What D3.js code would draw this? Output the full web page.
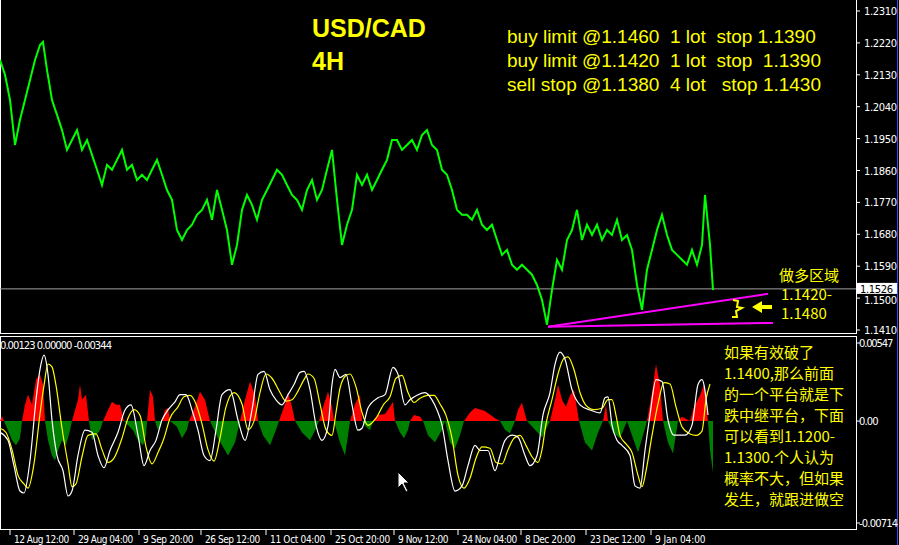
<!DOCTYPE html>
<html><head><meta charset="utf-8">
<script src="https://cdn.jsdelivr.net/npm/d3@7"></script>
<style>body{margin:0;background:#000}svg{display:block}</style></head>
<body><script>
// ---- DATA ----
const priceTicks=[1.2310,1.2220,1.2130,1.2040,1.1950,1.1860,1.1770,1.1680,1.1590,1.1500,1.1410];
const lastPrice=1.1526;
const priceBars=[0,5,10,15,20,25,30,35,40,43,47,52,57,62,67,72,77,82,87,92,97,102,107,112,117,122,127,132,137,142,147,152,157,162,167,172,177,182,187,192,197,202,207,212,217,222,227,232,237,242,247,252,257,262,267,272,277,282,287,292,297,302,307,312,317,322,327,332,337,342,347,352,357,362,367,372,377,382,387,392,397,402,407,412,417,422,427,432,437,442,447,452,457,462,467,472,477,482,487,492,497,502,507,512,517,522,527,532,537,542,547,552,557,562,567,572,577,582,587,592,597,602,607,612,617,622,627,632,637,642,647,652,657,662,667,672,677,682,687,692,697,702,705,707,710,713];
const priceVals=[1.2172,1.2130,1.2059,1.1932,1.2003,1.2059,1.2115,1.2172,1.2214,1.2223,1.2144,1.2059,1.2017,1.1974,1.1918,1.1946,1.1974,1.1918,1.1946,1.1904,1.1862,1.1819,1.1876,1.1862,1.1890,1.1918,1.1862,1.1876,1.1833,1.1848,1.1833,1.1862,1.1890,1.1848,1.1805,1.1777,1.1692,1.1664,1.1692,1.1707,1.1735,1.1749,1.1777,1.1721,1.1805,1.1749,1.1692,1.1594,1.1650,1.1749,1.1791,1.1763,1.1721,1.1777,1.1805,1.1833,1.1862,1.1848,1.1819,1.1791,1.1777,1.1749,1.1805,1.1833,1.1777,1.1805,1.1862,1.1918,1.1777,1.1650,1.1707,1.1749,1.1848,1.1819,1.1848,1.1805,1.1833,1.1862,1.1890,1.1946,1.1946,1.1918,1.1932,1.1946,1.1918,1.1960,1.1974,1.1932,1.1918,1.1862,1.1848,1.1805,1.1749,1.1735,1.1735,1.1721,1.1749,1.1707,1.1692,1.1707,1.1664,1.1622,1.1636,1.1594,1.1580,1.1594,1.1580,1.1566,1.1537,1.1495,1.1425,1.1523,1.1608,1.1580,1.1664,1.1692,1.1749,1.1664,1.1707,1.1678,1.1707,1.1664,1.1692,1.1678,1.1721,1.1664,1.1678,1.1636,1.1537,1.1467,1.1580,1.1636,1.1692,1.1735,1.1678,1.1636,1.1622,1.1608,1.1594,1.1636,1.1594,1.1650,1.1791,1.1735,1.1650,1.1523];
const trendUpper=[[548,1.1419],[768,1.1512]];
const trendLower=[[548,1.1419],[773,1.1430]];
// MACD-type indicator, values in units of 0.00001
const histBars=[0,2,4,8,12,16,20,22,25,28,32,36,40,43,45,48,52,55,58,62,66,70,72,75,78,80,82,86,89,92,96,100,103,108,112,116,120,124,133,138,143,146,147,150,153,155,158,162,165,168,170,177,182,187,189,195,200,205,210,218,228,235,240,245,250,255,258,263,270,276,279,285,288,292,295,302,310,316,319,324,328,332,334,340,345,348,350,355,360,362,366,370,373,378,385,390,393,395,400,404,408,410,414,420,423,428,435,442,445,450,455,460,464,470,475,485,495,500,505,510,515,518,522,527,535,542,550,555,558,562,566,570,574,579,585,592,598,603,606,608,613,620,627,632,638,645,647,652,656,660,663,668,673,678,682,690,694,700,704,708,710,713];
const histVals=[0,36,0,-64,-135,-170,-121,0,114,185,114,291,327,256,0,-135,-241,-277,-206,-135,-170,-64,0,78,149,256,149,185,0,-135,-99,-64,0,78,135,114,114,0,-64,-135,-170,-100,0,220,170,0,-64,0,78,92,0,-40,-121,-60,0,100,206,150,0,-120,-241,-150,0,150,277,180,0,-100,-170,-60,0,120,199,100,0,-80,-135,-50,0,120,206,100,0,-150,-241,-100,0,120,185,0,-40,-64,0,43,50,100,135,0,-80,-121,-60,0,43,30,0,-100,-149,-60,0,-150,-192,-100,0,60,92,70,20,0,-60,-85,0,80,128,0,-60,-114,0,150,256,150,100,180,220,0,-150,-206,-80,0,114,0,-80,-121,0,-100,-220,-50,0,200,398,250,0,-150,-227,0,30,0,100,180,256,0,-200,-362];
const mainBars=[0,8,14,20,24,30,36,40,44,48,52,57,63,68,72,78,85,92,98,104,110,118,125,131,138,144,150,156,162,168,175,180,186,192,198,204,210,216,222,230,238,245,252,258,264,270,276,282,288,294,300,304,310,316,322,328,332,335,340,346,352,358,362,368,378,385,393,398,405,410,418,425,432,437,442,448,455,462,468,475,480,488,495,500,505,512,518,525,530,537,543,550,555,560,565,572,580,590,600,605,608,612,617,622,630,635,640,645,650,656,662,668,674,678,685,692,698,702,708];
const mainVals=[-78,-135,-312,-490,-504,-277,149,362,462,327,7,-241,-348,-525,-490,-241,-64,-78,-241,-327,-206,-78,78,114,-99,-312,-206,-135,7,78,135,185,185,78,-64,-241,-277,-64,185,220,7,-135,78,327,348,220,149,114,185,256,341,348,220,-28,-135,-36,256,362,305,327,114,-64,-50,92,163,185,376,327,114,149,185,199,149,78,-28,-277,-490,-454,-312,-170,-206,-206,-348,-241,-135,-99,-114,-241,-312,-241,43,199,398,483,433,220,114,78,57,163,170,-28,-135,-170,-241,-454,-469,-206,43,291,277,7,-99,-99,-99,-28,256,291,43];
const signalBars=[0,6,12,18,24,28,34,40,44,48,52,56,62,68,72,76,82,88,96,102,108,114,122,128,134,140,146,152,158,164,170,178,184,190,196,202,208,214,220,226,234,242,248,254,260,266,272,280,286,292,298,304,308,314,320,326,332,336,340,346,350,356,362,368,376,384,390,396,402,408,414,420,428,434,440,446,452,458,464,470,476,482,490,496,502,508,514,520,526,532,538,542,546,552,558,564,568,574,580,586,594,602,608,612,616,620,626,632,638,642,646,652,658,664,670,676,682,690,696,702,706,710];
const signalVals=[-50,-80,-200,-380,-440,-470,-300,50,250,400,380,250,-50,-300,-460,-440,-250,-100,-90,-200,-290,-260,-120,20,80,40,-180,-300,-220,-120,20,100,170,180,120,-20,-200,-280,-120,100,200,120,-60,0,200,330,300,200,140,150,210,290,330,300,120,-60,-100,60,230,320,330,240,60,-30,20,120,170,300,320,200,130,160,180,180,120,40,-120,-380,-470,-400,-260,-180,-190,-290,-300,-200,-120,-100,-170,-250,-290,-200,-20,150,330,440,450,360,200,110,80,90,150,150,40,-100,-160,-220,-380,-460,-350,-100,120,270,260,100,-40,-90,-100,-70,150,260,180];
const indicatorLabel="0.00123 0.00000 -0.00344";
const indTicks=[{v:547,t:"0.00547"},{v:0,t:"0.00"},{v:-714,t:"-0.00714"}];
const timeTickBars=[10,74,139,201,266,331,394,458,521,586,651];
const timeTickLabels=["12 Aug 12:00","29 Aug 04:00","9 Sep 20:00","26 Sep 12:00","11 Oct 04:00","25 Oct 20:00","9 Nov 12:00","24 Nov 04:00","8 Dec 20:00","23 Dec 12:00","9 Jan 04:00"];
const orderLines=["buy limit @1.1460  1 lot  stop 1.1390","buy limit @1.1420  1 lot  stop  1.1390","sell stop @1.1380  4 lot   stop 1.1430"];
const zoneLines=["做多区域","1.1420-","1.1480"];
const noteLines=["如果有效破了","1.1400,那么前面","的一个平台就是下","跌中继平台，下面","可以看到1.1200-","1.1300.个人认为","概率不大，但如果","发生，就跟进做空"];

// ---- CHART ----
const W=899,H=545,R=856;
const svg=d3.select("body").append("svg").attr("width",W).attr("height",H).style("background","#000");
const x=d3.scaleLinear().domain([0,856]).range([0,856]);
const yP=d3.scaleLinear().domain([1.1410,1.2310]).range([330,11]);
const yI=d3.scaleLinear().domain([-714,547]).range([523,343]);
const axF="'Liberation Sans Narrow','DejaVu Sans Condensed',sans-serif";
const yel="#ffff00";

svg.append("rect").attr("x",0.5).attr("y",-2).attr("width",R).attr("height",335.5).attr("fill","none").attr("stroke","#fff");
svg.append("rect").attr("x",0.5).attr("y",336.5).attr("width",R).attr("height",193).attr("fill","none").attr("stroke","#fff");
svg.append("line").attr("x1",897.5).attr("x2",897.5).attr("y1",0).attr("y2",H).attr("stroke","#3050ff");

svg.append("line").attr("x1",0).attr("x2",R).attr("y1",yP(lastPrice)).attr("y2",yP(lastPrice)).attr("stroke","#a0a0a0");

svg.append("path").datum(priceBars.map((b,i)=>[b,priceVals[i]]))
 .attr("d",d3.line().x(d=>x(d[0])).y(d=>yP(d[1])))
 .attr("fill","none").attr("stroke","#00ff00").attr("stroke-width",2);

[trendUpper,trendLower].forEach(t=>svg.append("line").attr("x1",x(t[0][0])).attr("y1",yP(t[0][1])).attr("x2",x(t[1][0])).attr("y2",yP(t[1][1])).attr("stroke","#ff00ff").attr("stroke-width",2));

const pa=svg.append("g");
priceTicks.forEach(v=>{
  pa.append("line").attr("x1",R).attr("x2",R+4).attr("y1",yP(v)).attr("y2",yP(v)).attr("stroke","#fff");
  pa.append("text").attr("x",R+8).attr("y",yP(v)+(v===1.15?6:4)).text(v.toFixed(4)).attr("fill","#fff").attr("font-size",10).attr("font-family","DejaVu Sans").attr("textLength",33);
});
pa.append("rect").attr("x",R+1).attr("y",yP(lastPrice)-6).attr("width",40).attr("height",11).attr("fill","#fff");
pa.append("text").attr("x",R+4).attr("y",yP(lastPrice)+4).text(lastPrice.toFixed(4)).attr("fill","#000").attr("font-size",10).attr("font-family","DejaVu Sans").attr("textLength",33);

svg.append("text").attr("x",312).attr("y",37).text("USD/CAD").attr("fill",yel).attr("font-size",25).attr("font-weight","bold").attr("font-family","Liberation Sans");
svg.append("text").attr("x",312).attr("y",70).text("4H").attr("fill",yel).attr("font-size",25).attr("font-weight","bold").attr("font-family","Liberation Sans");
orderLines.forEach((t,i)=>svg.append("text").attr("x",507).attr("y",43+i*24).text(t).attr("fill",yel).attr("font-size",19).attr("font-family","Liberation Sans").style("white-space","pre"));
zoneLines.forEach((t,i)=>svg.append("text").attr("x",i?781:779).attr("y",281+i*19).text(t).attr("fill",yel).attr("font-size",15).attr("font-family","'Noto Sans CJK SC',DejaVu Sans"));
svg.append("path").attr("d","M752,307 L762,301 L762,305 L772,305 L772,309 L762,309 L762,313 Z").attr("fill",yel);
svg.append("path").attr("d","M733,300 L738,301 L737,307 L742,308 L736,311 L737,317 L732,317").attr("fill","none").attr("stroke",yel).attr("stroke-width",2);

const hist=histBars.map((b,i)=>[b,histVals[i]]);
const defs=svg.append("defs");
defs.append("clipPath").attr("id","up").append("rect").attr("x",0).attr("y",337).attr("width",R).attr("height",yI(0)-337);
defs.append("clipPath").attr("id","dn").append("rect").attr("x",0).attr("y",yI(0)).attr("width",R).attr("height",529-yI(0));
const ar=d3.area().x(d=>x(d[0])).y0(yI(0)).y1(d=>yI(d[1]));
svg.append("path").datum(hist).attr("d",ar).attr("fill","#ff0000").attr("clip-path","url(#up)");
svg.append("path").datum(hist).attr("d",ar).attr("fill","#008000").attr("clip-path","url(#dn)");
const ln=d3.line().x(d=>x(d[0])).y(d=>yI(d[1])).curve(d3.curveMonotoneX);
svg.append("path").datum(signalBars.map((b,i)=>[b,signalVals[i]])).attr("d",ln).attr("fill","none").attr("stroke",yel).attr("stroke-width",1.2);
svg.append("path").datum(mainBars.map((b,i)=>[b,mainVals[i]])).attr("d",ln).attr("fill","none").attr("stroke","#fff").attr("stroke-width",1.2);
svg.append("text").attr("x",0).attr("y",349).text(indicatorLabel).attr("fill","#fff").attr("font-size",10).attr("font-family","DejaVu Sans").attr("textLength",112);
indTicks.forEach(d=>{
  svg.append("line").attr("x1",R).attr("x2",R+4).attr("y1",yI(d.v)).attr("y2",yI(d.v)).attr("stroke","#fff");
  svg.append("text").attr("x",R+3).attr("y",yI(d.v)+4).text(d.t).attr("fill","#fff").attr("font-size",10).attr("font-family","DejaVu Sans").attr("textLength",d.t.length*4.9);
});
noteLines.forEach((t,i)=>svg.append("text").attr("x",724).attr("y",358+i*21).text(t).attr("fill",yel).attr("font-size",15).attr("font-family","'Noto Sans CJK SC',DejaVu Sans"));
svg.append("path").attr("d","M398,472 L398,488 L402,484 L406,492 L408,491 L404,483 L409,483 Z").attr("fill","#fff").attr("stroke","#000");

timeTickBars.forEach((b,i)=>{
  svg.append("line").attr("x1",x(b)).attr("x2",x(b)).attr("y1",530).attr("y2",535).attr("stroke","#fff");
  svg.append("text").attr("x",x(b)+4).attr("y",543).text(timeTickLabels[i]).attr("fill","#fff").attr("font-size",10).attr("font-family",axF).attr("textLength",timeTickLabels[i].length*4.6);
});
</script></body></html>
